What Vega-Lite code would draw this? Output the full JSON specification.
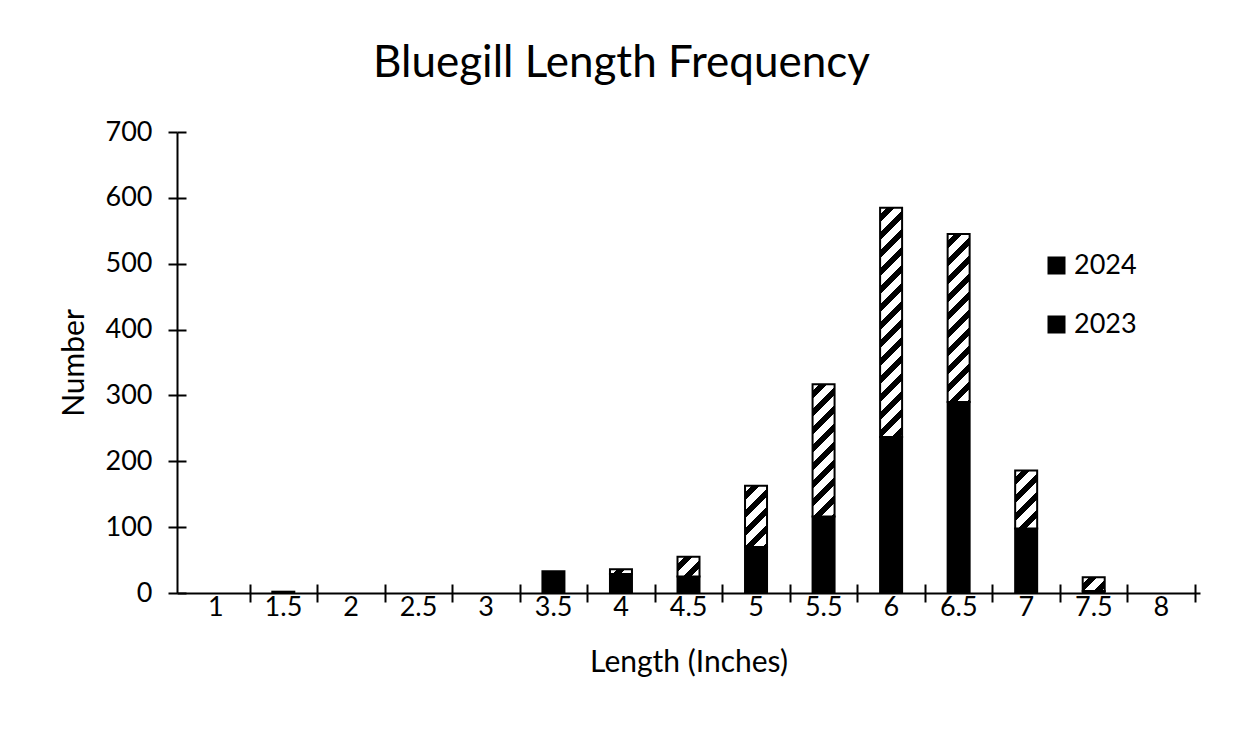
{
  "$schema": "https://vega.github.io/schema/vega-lite/v6.json",
  "width": 1023,
  "height": 461,
  "autosize": {"type": "none"},
  "padding": {"left": 177, "top": 132, "right": 33, "bottom": 148},
  "background": "white",
  "title": {"text": "Bluegill Length Frequency", "font": "Lato", "fontSize": 44, "fontWeight": "normal", "color": "black", "anchor": "middle", "dx": -67, "dy": -28},
  "data": {"values": [
    {"length": 1.5, "year": "2023", "count": 2},
    {"length": 3.5, "year": "2023", "count": 33},
    {"length": 4, "year": "2023", "count": 29},
    {"length": 4, "year": "2024", "count": 7},
    {"length": 4.5, "year": "2023", "count": 25},
    {"length": 4.5, "year": "2024", "count": 30},
    {"length": 5, "year": "2023", "count": 70},
    {"length": 5, "year": "2024", "count": 93},
    {"length": 5.5, "year": "2023", "count": 116},
    {"length": 5.5, "year": "2024", "count": 201},
    {"length": 6, "year": "2023", "count": 237},
    {"length": 6, "year": "2024", "count": 348},
    {"length": 6.5, "year": "2023", "count": 290},
    {"length": 6.5, "year": "2024", "count": 255},
    {"length": 7, "year": "2023", "count": 98},
    {"length": 7, "year": "2024", "count": 88},
    {"length": 7.5, "year": "2023", "count": 3},
    {"length": 7.5, "year": "2024", "count": 21}
  ]},
  "transform": [
    {"stack": "count", "groupby": ["length"], "sort": [{"field": "year", "order": "ascending"}], "as": ["low", "high"]}
  ],
  "layer": [
    {
      "transform": [{"filter": "datum.year === '2023'"}],
      "mark": {"type": "bar", "width": 22, "strokeWidth": 2, "fill": "black"},
      "encoding": {
        "x": {"field": "length", "type": "quantitative", "scale": {"domain": [0.75, 8.25], "nice": false, "zero": false},
          "axis": {"orient": "bottom", "values": [1.25, 1.75, 2.25, 2.75, 3.25, 3.75, 4.25, 4.75, 5.25, 5.75, 6.25, 6.75, 7.25, 7.75, 8.25],
            "labelExpr": "datum.value - 0.25", "labelOffset": -34.1, "labelFlush": false, "labelOverlap": false, "labelBound": false,
            "tickSize": 9, "tickWidth": 2, "tickColor": "black", "domainColor": "black", "domainWidth": 2,
            "labelFont": "Lato", "labelFontSize": 27, "labelColor": "black", "labelPadding": -8,
            "title": "Length (Inches)", "titleFont": "Lato", "titleFontSize": 30, "titleFontWeight": "normal", "titleColor": "black", "titlePadding": 27, "grid": false}},
        "y": {"field": "high", "type": "quantitative", "scale": {"domain": [0, 700], "nice": false},
          "axis": {"orient": "left", "values": [0, 100, 200, 300, 400, 500, 600, 700],
            "tickSize": 9, "tickWidth": 2, "tickColor": "black", "domainColor": "black", "domainWidth": 2,
            "labelFont": "Lato", "labelFontSize": 27, "labelColor": "black", "labelPadding": 16,
            "title": "Number", "titleFont": "Lato", "titleFontSize": 30, "titleFontWeight": "normal", "titleColor": "black", "titlePadding": 16, "grid": false}},
        "y2": {"field": "low"},
        "stroke": {"field": "year", "type": "nominal", "scale": {"domain": ["2024", "2023"], "range": ["black", "black"]},
          "legend": {"title": null, "orient": "none", "legendX": 866, "legendY": 120, "padding": 0,
            "symbolType": "square", "symbolSize": 256, "symbolStrokeWidth": 2, "symbolStrokeColor": "black",
            "labelFont": "Lato", "labelFontSize": 27, "labelColor": "black", "labelOffset": 4, "rowPadding": 31,
            "encode": {"symbols": {
              "fill": {"condition": {"test": "datum.value === '2024'", "value": {"gradient": "linear", "x1": 0, "y1": 0, "x2": 1, "y2": 1, "stops": [
                {"offset": 0, "color": "black"}, {"offset": 0.15, "color": "black"}, {"offset": 0.15, "color": "white"}, {"offset": 0.45, "color": "white"},
                {"offset": 0.45, "color": "black"}, {"offset": 0.7, "color": "black"}, {"offset": 0.7, "color": "white"}, {"offset": 1, "color": "white"}]}},
                "value": "black"}
            }}}}
      }
    },
    {
      "transform": [{"filter": "datum.year === '2024'"}],
      "mark": {"type": "bar", "width": 22, "strokeWidth": 2, "stroke": "black"},
      "encoding": {
        "x": {"field": "length", "type": "quantitative", "scale": {"domain": [0.75, 8.25], "nice": false, "zero": false},
          "axis": {"orient": "bottom", "offset": -9, "values": [1.25, 1.75, 2.25, 2.75, 3.25, 3.75, 4.25, 4.75, 5.25, 5.75, 6.25, 6.75, 7.25, 7.75, 8.25],
            "domain": false, "labels": false, "tickSize": 9, "tickWidth": 2, "tickColor": "black", "title": null, "grid": false}},
        "y": {"field": "high", "type": "quantitative", "scale": {"domain": [0, 700], "nice": false},
          "axis": {"orient": "left", "offset": -9, "values": [0, 100, 200, 300, 400, 500, 600, 700],
            "domain": false, "labels": false, "tickSize": 9, "tickWidth": 2, "tickColor": "black", "title": null, "grid": false}},
        "y2": {"field": "low"},
        "fill": {
          "condition": [
            {"test": "datum.length === 4", "value": {"gradient": "linear", "x1": 0, "y1": 0, "x2": 1.1587, "y2": 0.2428, "stops": [
              {"offset": 0, "color": "white"}, {"offset": 0.2631, "color": "white"}, {"offset": 0.2631, "color": "black"}, {"offset": 0.5637, "color": "black"},
              {"offset": 0.5637, "color": "white"}, {"offset": 0.9395, "color": "white"}, {"offset": 0.9395, "color": "black"}, {"offset": 1, "color": "black"}]}},
            {"test": "datum.length === 4.5", "value": {"gradient": "linear", "x1": 0, "y1": 0, "x2": 1.0506, "y2": 0.9436, "stops": [
              {"offset": 0, "color": "white"}, {"offset": 0.1676, "color": "white"}, {"offset": 0.1676, "color": "black"}, {"offset": 0.3592, "color": "black"},
              {"offset": 0.3592, "color": "white"}, {"offset": 0.5987, "color": "white"}, {"offset": 0.5987, "color": "black"}, {"offset": 0.7902, "color": "black"},
              {"offset": 0.7902, "color": "white"}, {"offset": 1, "color": "white"}]}},
            {"test": "datum.length === 5", "value": {"gradient": "linear", "x1": 0, "y1": 0, "x2": 0.4324, "y2": 1.2039, "stops": [
              {"offset": 0, "color": "white"}, {"offset": 0.0841, "color": "white"}, {"offset": 0.0841, "color": "black"}, {"offset": 0.1802, "color": "black"},
              {"offset": 0.1802, "color": "white"}, {"offset": 0.3003, "color": "white"}, {"offset": 0.3003, "color": "black"}, {"offset": 0.3964, "color": "black"},
              {"offset": 0.3964, "color": "white"}, {"offset": 0.5165, "color": "white"}, {"offset": 0.5165, "color": "black"}, {"offset": 0.6126, "color": "black"},
              {"offset": 0.6126, "color": "white"}, {"offset": 0.7327, "color": "white"}, {"offset": 0.7327, "color": "black"}, {"offset": 0.8288, "color": "black"},
              {"offset": 0.8288, "color": "white"}, {"offset": 0.9489, "color": "white"}, {"offset": 0.9489, "color": "black"}, {"offset": 1, "color": "black"}]}},
            {"test": "datum.length === 5.5", "value": {"gradient": "linear", "x1": 0, "y1": 0, "x2": 0.1886, "y2": 1.1348, "stops": [
              {"offset": 0, "color": "white"}, {"offset": 0.0453, "color": "white"}, {"offset": 0.0453, "color": "black"}, {"offset": 0.0972, "color": "black"},
              {"offset": 0.0972, "color": "white"}, {"offset": 0.1619, "color": "white"}, {"offset": 0.1619, "color": "black"}, {"offset": 0.2137, "color": "black"},
              {"offset": 0.2137, "color": "white"}, {"offset": 0.2785, "color": "white"}, {"offset": 0.2785, "color": "black"}, {"offset": 0.3303, "color": "black"},
              {"offset": 0.3303, "color": "white"}, {"offset": 0.3951, "color": "white"}, {"offset": 0.3951, "color": "black"}, {"offset": 0.4469, "color": "black"},
              {"offset": 0.4469, "color": "white"}, {"offset": 0.5117, "color": "white"}, {"offset": 0.5117, "color": "black"}, {"offset": 0.5635, "color": "black"},
              {"offset": 0.5635, "color": "white"}, {"offset": 0.6282, "color": "white"}, {"offset": 0.6282, "color": "black"}, {"offset": 0.6801, "color": "black"},
              {"offset": 0.6801, "color": "white"}, {"offset": 0.7448, "color": "white"}, {"offset": 0.7448, "color": "black"}, {"offset": 0.7966, "color": "black"},
              {"offset": 0.7966, "color": "white"}, {"offset": 0.8614, "color": "white"}, {"offset": 0.8614, "color": "black"}, {"offset": 0.9132, "color": "black"},
              {"offset": 0.9132, "color": "white"}, {"offset": 0.978, "color": "white"}, {"offset": 0.978, "color": "black"}, {"offset": 1, "color": "black"}]}},
            {"test": "datum.length === 6", "value": {"gradient": "linear", "x1": 0, "y1": 0, "x2": 0.1042, "y2": 1.086, "stops": [
              {"offset": 0, "color": "white"}, {"offset": 0.0279, "color": "white"}, {"offset": 0.0279, "color": "black"}, {"offset": 0.0597, "color": "black"},
              {"offset": 0.0597, "color": "white"}, {"offset": 0.0995, "color": "white"}, {"offset": 0.0995, "color": "black"}, {"offset": 0.1314, "color": "black"},
              {"offset": 0.1314, "color": "white"}, {"offset": 0.1712, "color": "white"}, {"offset": 0.1712, "color": "black"}, {"offset": 0.203, "color": "black"},
              {"offset": 0.203, "color": "white"}, {"offset": 0.2428, "color": "white"}, {"offset": 0.2428, "color": "black"}, {"offset": 0.2747, "color": "black"},
              {"offset": 0.2747, "color": "white"}, {"offset": 0.3145, "color": "white"}, {"offset": 0.3145, "color": "black"}, {"offset": 0.3463, "color": "black"},
              {"offset": 0.3463, "color": "white"}, {"offset": 0.3861, "color": "white"}, {"offset": 0.3861, "color": "black"}, {"offset": 0.418, "color": "black"},
              {"offset": 0.418, "color": "white"}, {"offset": 0.4578, "color": "white"}, {"offset": 0.4578, "color": "black"}, {"offset": 0.4897, "color": "black"},
              {"offset": 0.4897, "color": "white"}, {"offset": 0.5295, "color": "white"}, {"offset": 0.5295, "color": "black"}, {"offset": 0.5613, "color": "black"},
              {"offset": 0.5613, "color": "white"}, {"offset": 0.6011, "color": "white"}, {"offset": 0.6011, "color": "black"}, {"offset": 0.633, "color": "black"},
              {"offset": 0.633, "color": "white"}, {"offset": 0.6728, "color": "white"}, {"offset": 0.6728, "color": "black"}, {"offset": 0.7046, "color": "black"},
              {"offset": 0.7046, "color": "white"}, {"offset": 0.7444, "color": "white"}, {"offset": 0.7444, "color": "black"}, {"offset": 0.7763, "color": "black"},
              {"offset": 0.7763, "color": "white"}, {"offset": 0.8161, "color": "white"}, {"offset": 0.8161, "color": "black"}, {"offset": 0.8479, "color": "black"},
              {"offset": 0.8479, "color": "white"}, {"offset": 0.8877, "color": "white"}, {"offset": 0.8877, "color": "black"}, {"offset": 0.9196, "color": "black"},
              {"offset": 0.9196, "color": "white"}, {"offset": 0.9594, "color": "white"}, {"offset": 0.9594, "color": "black"}, {"offset": 0.9912, "color": "black"},
              {"offset": 0.9912, "color": "white"}, {"offset": 1, "color": "white"}]}},
            {"test": "datum.length === 6.5", "value": {"gradient": "linear", "x1": 0, "y1": 0, "x2": 0.1457, "y2": 1.1119, "stops": [
              {"offset": 0, "color": "white"}, {"offset": 0.0369, "color": "white"}, {"offset": 0.0369, "color": "black"}, {"offset": 0.079, "color": "black"},
              {"offset": 0.079, "color": "white"}, {"offset": 0.1316, "color": "white"}, {"offset": 0.1316, "color": "black"}, {"offset": 0.1738, "color": "black"},
              {"offset": 0.1738, "color": "white"}, {"offset": 0.2264, "color": "white"}, {"offset": 0.2264, "color": "black"}, {"offset": 0.2686, "color": "black"},
              {"offset": 0.2686, "color": "white"}, {"offset": 0.3212, "color": "white"}, {"offset": 0.3212, "color": "black"}, {"offset": 0.3633, "color": "black"},
              {"offset": 0.3633, "color": "white"}, {"offset": 0.416, "color": "white"}, {"offset": 0.416, "color": "black"}, {"offset": 0.4581, "color": "black"},
              {"offset": 0.4581, "color": "white"}, {"offset": 0.5108, "color": "white"}, {"offset": 0.5108, "color": "black"}, {"offset": 0.5529, "color": "black"},
              {"offset": 0.5529, "color": "white"}, {"offset": 0.6056, "color": "white"}, {"offset": 0.6056, "color": "black"}, {"offset": 0.6477, "color": "black"},
              {"offset": 0.6477, "color": "white"}, {"offset": 0.7004, "color": "white"}, {"offset": 0.7004, "color": "black"}, {"offset": 0.7425, "color": "black"},
              {"offset": 0.7425, "color": "white"}, {"offset": 0.7952, "color": "white"}, {"offset": 0.7952, "color": "black"}, {"offset": 0.8373, "color": "black"},
              {"offset": 0.8373, "color": "white"}, {"offset": 0.8899, "color": "white"}, {"offset": 0.8899, "color": "black"}, {"offset": 0.9321, "color": "black"},
              {"offset": 0.9321, "color": "white"}, {"offset": 0.9847, "color": "white"}, {"offset": 0.9847, "color": "black"}, {"offset": 1, "color": "black"}]}},
            {"test": "datum.length === 7", "value": {"gradient": "linear", "x1": 0, "y1": 0, "x2": 0.4577, "y2": 1.2058, "stops": [
              {"offset": 0, "color": "white"}, {"offset": 0.0875, "color": "white"}, {"offset": 0.0875, "color": "black"}, {"offset": 0.1876, "color": "black"},
              {"offset": 0.1876, "color": "white"}, {"offset": 0.3127, "color": "white"}, {"offset": 0.3127, "color": "black"}, {"offset": 0.4127, "color": "black"},
              {"offset": 0.4127, "color": "white"}, {"offset": 0.5378, "color": "white"}, {"offset": 0.5378, "color": "black"}, {"offset": 0.6378, "color": "black"},
              {"offset": 0.6378, "color": "white"}, {"offset": 0.7629, "color": "white"}, {"offset": 0.7629, "color": "black"}, {"offset": 0.8629, "color": "black"},
              {"offset": 0.8629, "color": "white"}, {"offset": 0.988, "color": "white"}, {"offset": 0.988, "color": "black"}, {"offset": 1, "color": "black"}]}},
            {"test": "datum.length === 7.5", "value": {"gradient": "linear", "x1": 0, "y1": 0, "x2": 1.1673, "y2": 0.7338, "stops": [
              {"offset": 0, "color": "white"}, {"offset": 0.1954, "color": "white"}, {"offset": 0.1954, "color": "black"}, {"offset": 0.4186, "color": "black"},
              {"offset": 0.4186, "color": "white"}, {"offset": 0.6977, "color": "white"}, {"offset": 0.6977, "color": "black"}, {"offset": 0.921, "color": "black"},
              {"offset": 0.921, "color": "white"}, {"offset": 1, "color": "white"}]}}
          ],
          "value": "white"
        }
      }
    }
  ],
  "resolve": {"axis": {"x": "independent", "y": "independent"}},
  "config": {"view": {"stroke": null}, "font": "Lato"}
}
